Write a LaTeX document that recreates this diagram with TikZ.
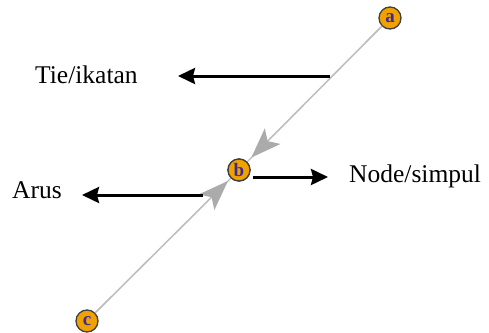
\documentclass[tikz,border=0pt]{standalone}
\usepackage{fontspec}
\setmainfont{Liberation Serif}
\usetikzlibrary{arrows.meta}
\definecolor{nodefill}{HTML}{F2A200}
\definecolor{letter}{HTML}{3A2A9A}
\definecolor{edgegray}{HTML}{BDBDBD}
\definecolor{headgray}{HTML}{ABABAB}
\tikzset{
  vert/.style={circle,fill=nodefill,draw=black!75,line width=1.3pt,minimum size=22pt,inner sep=0pt,
    font=\fontsize{19}{19}\selectfont\bfseries,text=letter},
  edgeline/.style={draw=edgegray,line width=1.3pt},
  edgearrow/.style={draw=edgegray,line width=1.3pt,-{Stealth[length=30pt,width=22pt,inset=7pt,color=headgray]}},
  callout/.style={line width=3pt,-{Stealth[length=17pt,width=16pt,inset=2pt]}},
  lbl/.style={anchor=base west,inner sep=0pt,font=\fontsize{25.5}{25.5}\selectfont}
}
\begin{document}
\begin{tikzpicture}[x=1pt,y=-1pt]
\useasboundingbox (0,0) rectangle (489,332);
\node[vert] (a) at (390,18) {a};
\node[vert] (b) at (239,170) {b};
\node[vert] (c) at (87,321) {c};
\path[edgeline] (a) -- (b);
\path[edgeline] (c) -- (b);
\path[edgearrow,shorten >=6pt] (a) -- (b);
\path[edgearrow,shorten >=4pt] (c) -- (b);
\node[vert] at (b) {b};
\node[lbl] (tie) at (35,83) {Tie/ikatan};
\node[lbl] (arus) at (12,198) {Arus};
\node[lbl] (nodel) at (349,182) {Node/simpul};
\coordinate (tiestart) at (330,76);
\coordinate (arusstart) at (203,195);
\coordinate (tietip) at (178,76);
\coordinate (arustip) at (82,195);
\coordinate (nodestart) at (253,177);
\coordinate (nodetip) at (328,177);
\draw[callout] (tiestart) -- (tietip);
\draw[callout] (arusstart) -- (arustip);
\draw[callout] (nodestart) -- (nodetip);
\end{tikzpicture}
\end{document}
